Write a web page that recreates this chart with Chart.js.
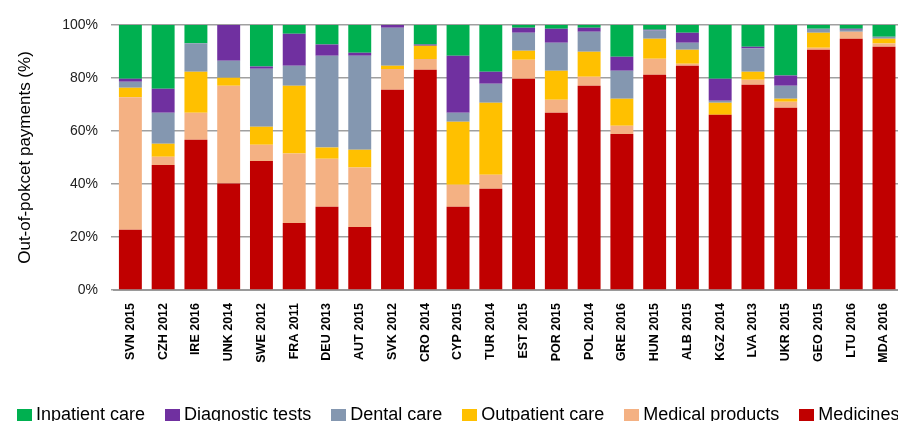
<!DOCTYPE html>
<html>
<head>
<meta charset="utf-8">
<script src="https://cdn.jsdelivr.net/npm/chart.js@4.4.1/dist/chart.umd.min.js"></script>
<style>
    html, body { margin: 0; padding: 0; background: #fff; }
    #wrap { position: relative; width: 898px; height: 421px; overflow: hidden; }
    #box { position: absolute; left: 0; top: 0; width: 912px; height: 421px; }
    #legend { position: absolute; left: 17px; top: 404px; display: flex; white-space: nowrap;
              font-family: 'Liberation Sans', Arial, sans-serif; font-size: 18px; color: #000; }
    #legend .item { display: flex; margin-right: 20px; }
    #legend .sw { width: 15px; height: 14px; margin-top: 5px; margin-right: 4px; }
</style>
</head>
<body>
<div id="wrap">
    <div id="box"><canvas id="oopChart"></canvas></div>
    <div id="legend"></div>
</div>
<script>
// Quốc gia / năm
var countries = ['SVN 2015', 'CZH 2012', 'IRE 2016', 'UNK 2014', 'SWE 2012', 'FRA 2011', 'DEU 2013', 'AUT 2015',
    'SVK 2012', 'CRO 2014', 'CYP 2015', 'TUR 2014', 'EST 2015', 'POR 2015', 'POL 2014', 'GRE 2016',
    'HUN 2015', 'ALB 2015', 'KGZ 2014', 'LVA 2013', 'UKR 2015', 'GEO 2015', 'LTU 2016', 'MDA 2016'];

// Tỷ lệ (%) của từng loại chi phí
var medicines = [22.7, 47.2, 56.7, 40.2, 48.7, 25.3, 31.4, 23.8, 75.6, 83.1, 31.4, 38.2, 79.7, 66.9, 77.1, 58.9, 81.2, 84.6, 66.1, 77.5, 68.8, 90.7, 94.8, 91.8];
var medicalProducts = [50.0, 3.1, 10.2, 36.9, 6.1, 26.2, 18.1, 22.4, 7.8, 4.1, 8.3, 5.3, 7.2, 4.9, 3.4, 3.1, 6.1, 0.8, 0, 1.8, 2.2, 0.7, 2.7, 1.2];
var outpatientCare = [3.6, 4.9, 15.5, 3.0, 6.8, 25.6, 4.3, 6.7, 1.2, 5.0, 23.8, 27.2, 3.4, 10.9, 9.4, 10.2, 7.5, 5.3, 4.6, 3.1, 1.2, 5.7, 0, 1.8];
var dentalCare = [2.3, 11.7, 10.7, 6.4, 21.9, 7.5, 34.6, 35.5, 14.4, 0, 3.4, 7.1, 6.8, 10.6, 7.6, 10.5, 3.1, 2.6, 0.7, 8.7, 4.9, 1.5, 0.7, 0.8];
var diagnosticTests = [1.1, 9.0, 0, 13.5, 0.8, 12.1, 4.2, 1.1, 1.0, 0.4, 21.5, 4.6, 1.9, 5.3, 1.5, 5.3, 0.3, 3.8, 8.3, 0.7, 3.8, 0, 0.4, 0];
var inpatientCare = [20.3, 24.1, 6.9, 0, 15.7, 3.3, 7.4, 10.5, 0, 7.4, 11.6, 17.6, 1.0, 1.4, 1.0, 12.0, 1.8, 2.9, 20.3, 8.2, 19.1, 1.4, 1.4, 4.4];

var yTicks = [0, 20, 40, 60, 80, 100];

// Thứ tự chồng cột từ dưới lên
var series = [
    { label: 'Medicines', data: medicines, color: '#C00000' },
    { label: 'Medical products', data: medicalProducts, color: '#F4B183' },
    { label: 'Outpatient care', data: outpatientCare, color: '#FFC000' },
    { label: 'Dental care', data: dentalCare, color: '#8497B0' },
    { label: 'Diagnostic tests', data: diagnosticTests, color: '#7030A0' },
    { label: 'Inpatient care', data: inpatientCare, color: '#00B050' }
];

Chart.defaults.font.family = "'Liberation Sans', Arial, sans-serif";
Chart.defaults.color = '#000';

var datasets = series.map(function (s) {
    return {
        label: s.label,
        data: s.data,
        backgroundColor: s.color,
        borderWidth: 0,
        categoryPercentage: 1,
        barPercentage: 0.7
    };
});

var ctx = document.getElementById('oopChart').getContext('2d');
var oopChart = new Chart(ctx, {
    type: 'bar',
    data: { labels: countries, datasets: datasets },
    options: {
        responsive: true,
        maintainAspectRatio: false,
        animation: false,
        layout: { padding: { top: 25, left: 0, right: 0, bottom: 0 } },
        scales: {
            x: {
                stacked: true,
                grid: { display: false, drawTicks: false },
                border: { display: true, color: '#9a9a9a', width: 2 },
                ticks: {
                    autoSkip: false,
                    minRotation: 90,
                    maxRotation: 90,
                    padding: 13,
                    font: { size: 12.5, weight: 'bold' },
                    color: '#000'
                },
                afterFit: function (scale) { scale.height = 131; }
            },
            y: {
                stacked: true,
                min: 0,
                max: 100,
                afterBuildTicks: function (scale) {
                    scale.ticks = yTicks.map(function (v) { return { value: v }; });
                },
                grid: { color: '#a0a0a0', lineWidth: 1.5, tickLength: 3 },
                border: { display: false },
                ticks: {
                    padding: 13,
                    font: { size: 14 },
                    color: '#222',
                    callback: function (v) { return v + '%'; }
                },
                title: {
                    display: true,
                    text: 'Out-of-pokcet payments (%)',
                    font: { size: 17 },
                    color: '#000',
                    padding: { top: 15, bottom: 0 }
                },
                afterFit: function (scale) { scale.width = 114; }
            }
        },
        plugins: {
            legend: { display: false },
            tooltip: { enabled: false }
        }
    }
});

// Chú thích (đảo ngược thứ tự như hình gốc)
var legendHtml = '';
series.slice().reverse().forEach(function (s) {
    legendHtml += '<div class="item"><div class="sw" style="background:' + s.color + '"></div><span>' + s.label + '</span></div>';
});
document.getElementById('legend').innerHTML = legendHtml;
</script>
</body>
</html>
